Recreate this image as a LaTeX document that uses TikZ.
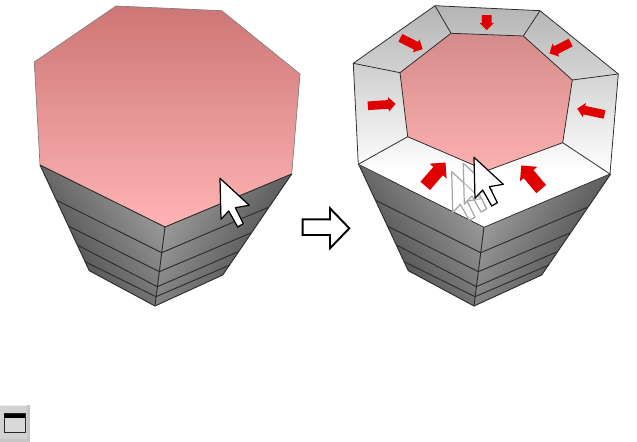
\documentclass[tikz,border=0pt]{standalone}
\usetikzlibrary{shapes.arrows}
\definecolor{pinktop}{HTML}{CE7676}
\definecolor{pinkbot}{HTML}{FFB4B4}
\definecolor{ringtop}{HTML}{B4B4B4}
\definecolor{sidelit}{HTML}{A0A0A0}
\definecolor{sidedark}{HTML}{404040}
\definecolor{edgedark}{HTML}{2E2E2E}
\definecolor{marker}{HTML}{E00000}
\tikzset{
	edge/.style={draw=edgedark, line width=0.55pt},
	redmark/.style={single arrow, fill=marker, inner sep=0pt, anchor=center},
	pointer/.style={draw=black, fill=white, line width=0.7pt, line join=round},
	ghost/.style={draw=gray!70, fill=white, fill opacity=0.25, line width=0.7pt, line join=round},
	pics/cursor/.style={code={
		\path[#1] (0,0) -- (1,41) -- (8.7,32.7) -- (17.7,48.7) -- (23.3,45.4) -- (15.3,29.4) -- (29.3,27) -- cycle;
	}},
	pics/cup/.style={code={
		% Side faces of the stack
		\shade[top color=sidelit, bottom color=sidedark, shading angle=-55] (40,165) -- (165,227) -- (155,306) -- (89.3,270.7) -- cycle;
		\shade[top color=sidelit, bottom color=sidedark, shading angle=60] (165,227) -- (291.7,174) -- (222.7,275) -- (155,306) -- cycle;
		\draw[edge] (40,165) -- (89.3,270.7) -- (155,306) -- (222.7,275) -- (291.7,174);
		\draw[edge] (165,227) -- (155,306);
		% Rings of the stack
		\draw[edge] (56,200) -- (161.7,252.7) -- (268.3,207.3);
		\draw[edge] (68.3,226) -- (159.3,271.7) -- (251,233);
		\draw[edge] (77.3,245) -- (157.3,286.7) -- (238.3,251.7);
		\draw[edge] (85,261.7) -- (156,296.7) -- (230,265);
	}}
}
\begin{document}
\begin{tikzpicture}[x=0.02cm, y=-0.02cm]
	\useasboundingbox (0,0) rectangle (637,442);
	% Left solid
	\pic {cup};
	\shade[top color=pinktop, bottom color=pinkbot] (116,6) -- (221.7,10.7) -- (300,74) -- (291.7,174) -- (165,227) -- (40,165) -- (34.3,62) -- cycle;
	\draw[draw=gray, line width=0.4pt] (40,165) -- (34.3,62) -- (116,6) -- (221.7,10.7) -- (300,74) -- (291.7,174);
	\draw[edge] (40,165) -- (165,227) -- (291.7,174);
	\pic at (220,178.3) {cursor=pointer};

	% Arrow between the solids
	\draw[draw=black, fill=white, line width=1.1pt, miter limit=6] (302.7,219.3) -- (330,219.3) -- (330,208.3) -- (349.3,228.3) -- (330,248.3) -- (330,235) -- (302.7,235) -- cycle;

	% Right solid
	\pic at (319,0) {cup};
	\fill[white] (435,5.7) -- (540,10.7) -- (618.3,74) -- (610,174) -- (484,227.3) -- (358.3,164.3) -- (353.3,63.3) -- cycle;
	\begin{scope}
		\clip (435,5.7) -- (540,10.7) -- (618.3,74) -- (610,174) -- (484,227.3) -- (358.3,164.3) -- (353.3,63.3) -- cycle;
		\shade[top color=ringtop, bottom color=white] (345,5) rectangle (625,172);
	\end{scope}
	\shade[top color=pinktop!85!white, bottom color=pinkbot!95!pinktop] (451,33.3) -- (523.3,36) -- (572.3,80) -- (562.7,142.7) -- (486.7,170.7) -- (407.7,136.7) -- (400,72.7) -- cycle;
	\draw[edge, line width=0.45pt] (435,5.7) -- (540,10.7) -- (618.3,74) -- (610,174) -- (484,227.3) -- (358.3,164.3) -- (353.3,63.3) -- cycle;
	\draw[edge, line width=0.45pt] (451,33.3) -- (523.3,36) -- (572.3,80) -- (562.7,142.7) -- (486.7,170.7) -- (407.7,136.7) -- (400,72.7) -- cycle;
	% Corners between outer and inner outline
	\draw[edge, line width=0.45pt] (435,5.7) -- (451,33.3);
	\draw[edge, line width=0.45pt] (540,10.7) -- (523.3,36);
	\draw[edge, line width=0.45pt] (618.3,74) -- (572.3,80);
	\draw[edge, line width=0.45pt] (610,174) -- (562.7,142.7);
	\draw[edge, line width=0.45pt] (358.3,164.3) -- (407.7,136.7);
	\draw[edge, line width=0.45pt] (353.3,63.3) -- (400,72.7);

	% Red markers: x/y/angle/length/half shaft/head extend
	\foreach \mx/\my/\ang/\len/\shaft/\ext [count=\i] in {
		486.7/20.2/-90/15/4.5/2.5,
		409.6/42.5/-27/25/4/3,
		562/47/207/24/4/3,
		379.6/105/4/28/4/3,
		593/112/168/28/4/3,
		433.3/176.6/49/31/6/5,
		533.3/179.7/130/31/6/5} {
		\node[redmark, minimum height=\len*0.567pt, inner ysep=\shaft*0.567pt, single arrow head extend=\ext*0.567pt, rotate=\ang] (mark\i) at (\mx,\my) {};
	}

	% Cursor trail
	\pic at (451.7,171.7) {cursor=ghost};
	\pic at (463.3,163.3) {cursor=ghost};
	\pic at (474,157.3) {cursor=pointer};

	% Toolbar button
	\fill[gray!45] (0,405) rectangle (30,442);
	\fill[gray!35] (0,405) rectangle (27.5,439);
	\fill[white!85!gray] (0,405) rectangle (27.5,406);
	\draw[draw=black!85, fill=gray!30, line width=0.8pt] (4.5,414) rectangle (25.5,432.5);
	\fill[black] (4.5,414) rectangle (25.5,418.5);
\end{tikzpicture}
\end{document}
